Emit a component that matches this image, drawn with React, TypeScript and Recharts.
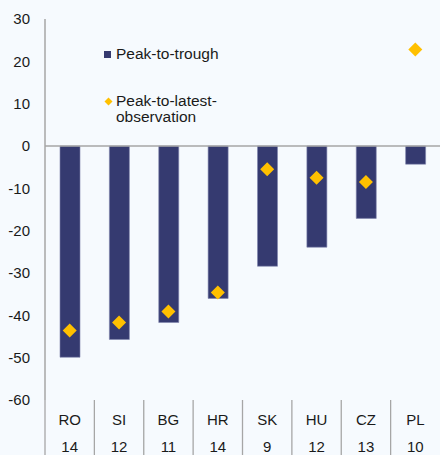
import React from "react";
import { ComposedChart, Bar, Line, XAxis, YAxis, ReferenceLine } from "recharts";

const countries = ["RO", "SI", "BG", "HR", "SK", "HU", "CZ", "PL"];
const years = ["14", "12", "11", "14", "9", "12", "13", "10"];
const peakToTrough = [-49.9, -45.7, -41.7, -36.0, -28.4, -23.9, -17.1, -4.3];
const peakToLatest = [-43.6, -41.7, -39.1, -34.6, -5.5, -7.5, -8.5, 22.8];
const yTicks = [-60, -50, -40, -30, -20, -10, 0, 10, 20, 30];

const data = countries.map((c, i) => ({
  name: c,
  years: years[i],
  trough: peakToTrough[i],
  latest: peakToLatest[i],
}));

const W = 440;
const H = 455;
const PLOT_LEFT = 45;
const PLOT_W = W - PLOT_LEFT;
const FONT = "'Liberation Sans', Arial, sans-serif";
const BAR = "#353A70";
const GOLD = "#FFC000";
const GRID = "#A6A6A6";

const XTick = (props: any) => {
  const { x, y, payload, index } = props;
  const step = PLOT_W / countries.length;
  const left = x - step / 2;
  return (
    <g>
      <line x1={left} y1={y} x2={left} y2={H} stroke={GRID} strokeWidth={1.3} />
      <text x={x} y={y + 21} textAnchor="middle" dominantBaseline="middle" fontSize={15} fill="#1a1a1a" fontFamily={FONT}>
        {payload.value}
      </text>
      <text x={x} y={y + 48} textAnchor="middle" dominantBaseline="middle" fontSize={15} fill="#1a1a1a" fontFamily={FONT}>
        {years[index]}
      </text>
    </g>
  );
};

const Diamond = (props: any) => {
  const { cx, cy } = props;
  if (cx == null || cy == null) return null;
  const r = 7;
  return (
    <path d={`M${cx},${cy - r} L${cx + r},${cy} L${cx},${cy + r} L${cx - r},${cy} Z`} fill={GOLD} stroke="none" />
  );
};

const LegendBox = () => (
  <div
    style={{
      position: "absolute",
      left: 104,
      top: 46,
      fontFamily: FONT,
      fontSize: 15.5,
      color: "#1a1a1a",
      lineHeight: "16px",
      pointerEvents: "none",
    }}
  >
    <div style={{ display: "flex", alignItems: "center", height: 16 }}>
      <span style={{ display: "inline-block", width: 7, height: 7, background: BAR, marginRight: 5 }} />
      <span>Peak-to-trough</span>
    </div>
    <div style={{ display: "flex", alignItems: "flex-start", marginTop: 31 }}>
      <svg width={9} height={16} style={{ marginRight: 3, flex: "none" }}>
        <path d="M4.5,4.5 L8.5,8.5 L4.5,12.5 L0.5,8.5 Z" fill={GOLD} />
      </svg>
      <span>
        Peak-to-latest-
        <br />
        observation
      </span>
    </div>
  </div>
);

export default function App() {
  return (
    <div style={{ position: "absolute", left: 0, top: 0, width: W, height: H, background: "#F6FAFE" }}>
      <ComposedChart width={W} height={H} data={data} margin={{ top: 19, right: 0, bottom: 0, left: 0 }}>
        <XAxis
          dataKey="name"
          axisLine={false}
          tickLine={false}
          tickSize={0}
          tickMargin={0}
          height={55}
          interval={0}
          tick={<XTick />}
        />
        <YAxis
          width={PLOT_LEFT}
          domain={[-60, 30]}
          ticks={yTicks}
          interval={0}
          tickLine={false}
          tickSize={0}
          tickMargin={15}
          axisLine={{ stroke: GRID, strokeWidth: 1.5 }}
          tick={{ fontSize: 15, fill: "#1a1a1a", fontFamily: FONT }}
        />
        <ReferenceLine y={0} stroke={GRID} strokeWidth={1.5} />
        <Bar dataKey="trough" fill={BAR} stroke="#7F85AC" strokeWidth={0.6} barSize={20} isAnimationActive={false} />
        <Line dataKey="latest" stroke="none" dot={<Diamond />} activeDot={false} isAnimationActive={false} />
      </ComposedChart>
      <LegendBox />
    </div>
  );
}
